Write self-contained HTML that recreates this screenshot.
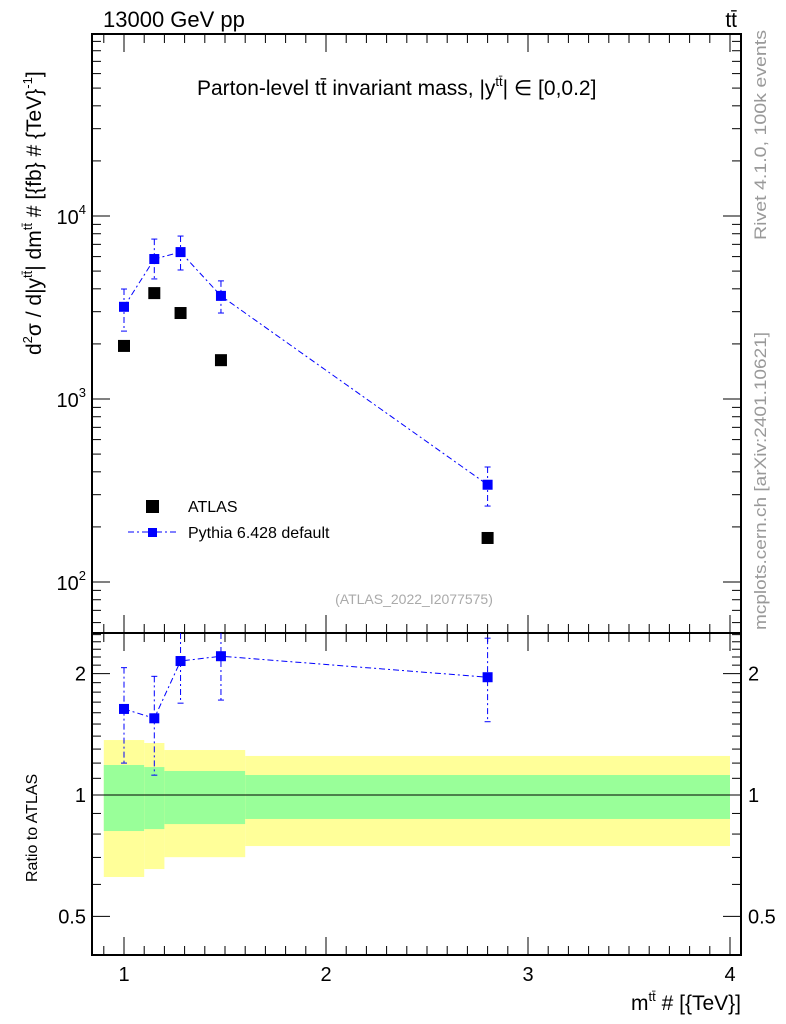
<!DOCTYPE html>
<html><head><meta charset="utf-8"><style>
body{margin:0;background:#fff;}
svg{font-family:"Liberation Sans",sans-serif;display:block}
</style></head><body>
<svg id="c" width="786" height="1024" viewBox="0 0 786 1024" xmlns="http://www.w3.org/2000/svg">
<text x="103" y="27" font-size="22">13000 GeV pp</text>
<text x="737" y="27" font-size="21" text-anchor="end">tt̄</text>
<text x="197" y="95" font-size="21">Parton-level tt̄ invariant mass, |y<tspan font-size="13" dy="-9">tt̄</tspan><tspan dy="9">| ∈ [0,0.2]</tspan></text>
<text x="414" y="604" font-size="14" fill="#aaa" text-anchor="middle">(ATLAS_2022_I2077575)</text>
<text transform="translate(766,240) rotate(-90)" font-size="17" fill="#999" textLength="210" lengthAdjust="spacingAndGlyphs">Rivet 4.1.0,  100k events</text>
<text transform="translate(766,630) rotate(-90)" font-size="17" fill="#999" textLength="298" lengthAdjust="spacingAndGlyphs">mcplots.cern.ch [arXiv:2401.10621]</text>
<text transform="translate(41,355) rotate(-90)" font-size="21">d<tspan font-size="13" dy="-9">2</tspan><tspan dy="9">σ / d|y</tspan><tspan font-size="13" dy="-9">tt̄</tspan><tspan dy="9">| dm</tspan><tspan font-size="13" dy="-9">tt̄</tspan><tspan dy="9"> # [{fb} # {TeV}</tspan><tspan font-size="13" dy="-9">-1</tspan><tspan dy="9">]</tspan></text>
<text transform="translate(37,882) rotate(-90)" font-size="16">Ratio to ATLAS</text>
<text x="741" y="1010" font-size="21" text-anchor="end">m<tspan font-size="13" dy="-9">tt̄</tspan><tspan dy="9"> # [{TeV}]</tspan></text>
<rect x="146" y="500" width="13" height="13" fill="#000"/>
<text x="188" y="512" font-size="16">ATLAS</text>
<line x1="128" y1="532" x2="178" y2="532" stroke="#00f" stroke-dasharray="6,3,2,3"/>
<rect x="148" y="528" width="9" height="9" fill="#00f"/>
<text x="188" y="538" font-size="16">Pythia 6.428 default</text>
<g id="g"></g>
</svg>
<script>
const xs=[1.0,1.15,1.28,1.48,2.8];
const atlas=[1950,3790,2950,1630,174];
const mc=[3190,5820,6350,3660,340];
const mcUp=[3990,7480,7770,4420,425];
const mcDn=[2350,4530,5070,2950,260];
const ratio=[1.635,1.55,2.15,2.21,1.96];
const ratioUp=[2.07,1.97,2.6,2.6,2.45];
const ratioDn=[1.2,1.12,1.69,1.72,1.52];
const binEdges=[0.9,1.1,1.2,1.6,4.0];
const yelUp=[1.369,1.346,1.293,1.25];
const yelDn=[0.626,0.655,0.701,0.747];
const grnUp=[1.187,1.173,1.147,1.121];
const grnDn=[0.814,0.823,0.847,0.872];
const xTicks=[1,2,3,4];
const yTicks=[100,1000,10000];
const rTicks=[0.5,1,2];
const L=92,R=741,T=34,M=633,B=955;
const X=v=>124+(v-1)*202;
const Y=v=>216-(Math.log10(v)-4)*183;
const RY=v=>795-Math.log10(v)*403;
const NS='http://www.w3.org/2000/svg',g=document.getElementById('g');
function el(t,a){const e=document.createElementNS(NS,t);for(const k in a)e.setAttribute(k,a[k]);g.appendChild(e);return e;}
for(let i=0;i<4;i++){
 let e=el('rect',{x:X(binEdges[i]),y:RY(yelUp[i]),width:X(binEdges[i+1])-X(binEdges[i]),height:RY(yelDn[i])-RY(yelUp[i]),fill:'#ffff99'});
 
 
 e=el('rect',{x:X(binEdges[i]),y:RY(grnUp[i]),width:X(binEdges[i+1])-X(binEdges[i]),height:RY(grnDn[i])-RY(grnUp[i]),fill:'#99ff99'});
 
 
}
let ln=el('line',{x1:L,x2:R,y1:RY(1),y2:RY(1),stroke:'#000','stroke-width':1});


for(const [y1,y2] of [[T,M],[M,B]]){
 const f=el('rect',{x:L,y:y1,width:R-L,height:y2-y1,fill:'none',stroke:'#000','stroke-width':2});
 
 
}
for(let v=0.9;v<=4.05;v+=0.1){
 const vv=Math.round(v*10)/10,maj=Math.abs(vv-Math.round(vv))<1e-6,len=maj?18:9;
 for(const [y,d] of [[T,1],[M,-1],[M,1],[B,-1]]){el('line',{x1:X(vv),x2:X(vv),y1:y,y2:y+d*len,stroke:'#000'});}
}
xTicks.forEach(v=>{const t=el('text',{x:X(v),y:981,'font-size':20,'text-anchor':'middle'});t.textContent=v;
 
 });
for(let d=1;d<=5;d++)for(let m=1;m<10;m++){const v=m*Math.pow(10,d),y=Y(v);if(y<T||y>M)continue;const len=m==1?18:9;
 el('line',{x1:L,x2:L+len,y1:y,y2:y,stroke:'#000'});el('line',{x1:R,x2:R-len,y1:y,y2:y,stroke:'#000'});}
yTicks.forEach(v=>{const e=Math.round(Math.log10(v));const t=el('text',{x:86,y:Y(v)+8,'font-size':20,'text-anchor':'end'});
 t.innerHTML='10<tspan font-size="13" dy="-10">'+e+'</tspan>';
 
 });
for(let v=0.4;v<=2.55;v+=0.1){const vv=Math.round(v*10)/10,y=RY(vv);if(y<M||y>B)continue;const maj=[0.5,1,2].includes(vv);const len=maj?18:9;
 el('line',{x1:L,x2:L+len,y1:y,y2:y,stroke:'#000'});el('line',{x1:R,x2:R-len,y1:y,y2:y,stroke:'#000'});}
rTicks.forEach(v=>{for(const [x,a] of [[86,'end'],[748,'start']]){const t=el('text',{x:x,y:RY(v)+7,'font-size':20,'text-anchor':a});t.textContent=v;
 
 }});
const clip=(y,a,b)=>Math.max(a,Math.min(b,y));
let p=el('polyline',{points:xs.map((x,i)=>X(x)+','+Y(mc[i])).join(' '),fill:'none',stroke:'#00f','stroke-dasharray':'6,3,2,3'});


xs.forEach((x,i)=>{
 el('line',{x1:X(x),x2:X(x),y1:Y(mcUp[i]),y2:Y(mcDn[i]),stroke:'#00f','stroke-dasharray':'6,3,2,3'});
 el('line',{x1:X(x)-3,x2:X(x)+3,y1:Y(mcUp[i]),y2:Y(mcUp[i]),stroke:'#00f'});
 el('line',{x1:X(x)-3,x2:X(x)+3,y1:Y(mcDn[i]),y2:Y(mcDn[i]),stroke:'#00f'});
 let r=el('rect',{x:X(x)-5,y:Y(mc[i])-5,width:10,height:10,fill:'#00f'});
 
 
 r=el('rect',{x:X(x)-6,y:Y(atlas[i])-6,width:12,height:12,fill:'#000'});
 
 
});
p=el('polyline',{points:xs.map((x,i)=>X(x)+','+RY(ratio[i])).join(' '),fill:'none',stroke:'#00f','stroke-dasharray':'6,3,2,3'});


xs.forEach((x,i)=>{
 const u=clip(RY(ratioUp[i]),M,B),d=clip(RY(ratioDn[i]),M,B);
 el('line',{x1:X(x),x2:X(x),y1:u,y2:d,stroke:'#00f','stroke-dasharray':'6,3,2,3'});
 if(u>M)el('line',{x1:X(x)-3,x2:X(x)+3,y1:u,y2:u,stroke:'#00f'});
 el('line',{x1:X(x)-3,x2:X(x)+3,y1:d,y2:d,stroke:'#00f'});
 const r=el('rect',{x:X(x)-5,y:RY(ratio[i])-5,width:10,height:10,fill:'#00f'});
 
 
});
</script>
</body></html>
